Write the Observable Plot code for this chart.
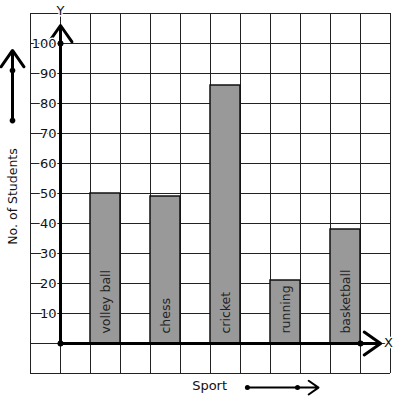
<!DOCTYPE html>
<html>
<head>
<meta charset="utf-8">
<script src="https://cdn.jsdelivr.net/npm/d3@7"></script>
<script src="https://cdn.jsdelivr.net/npm/@observablehq/plot@0.6"></script>
<style>
  html, body { margin: 0; padding: 0; background: #fff; }
  svg { display: block; }
</style>
</head>
<body>
<div id="chart"></div>
<script>
// Data
const sports = ["volley ball", "chess", "cricket", "running", "basketball"];
const students = [50, 49, 86, 21, 38];
const yTicks = [10, 20, 30, 40, 50, 60, 70, 80, 90, 100];
const xTitle = "Sport";
const yTitle = "No. of Students";

// x scale in grid-column units (origin column = 0), bars every other column
const data = sports.map((s, i) => ({sport: s, value: students[i], x1: 2 * i + 1, x2: 2 * i + 2}));
const gridX = d3.range(-1, 12);
const gridY = d3.range(-10, 111, 10);

const font = "DejaVu Sans, sans-serif";

const chart = Plot.plot({
  width: 397,
  height: 399,
  marginLeft: 30,
  marginRight: 7,
  marginTop: 13,
  marginBottom: 26,
  style: {fontFamily: font, background: "#fff", overflow: "visible"},
  x: {type: "linear", domain: [-1, 11], axis: null},
  y: {type: "linear", domain: [-10, 110], axis: null},
  marks: [
    Plot.ruleX(gridX, {x: d => d, y1: -10, y2: 110, stroke: "#222", strokeWidth: 1, strokeOpacity: 1}),
    Plot.ruleY(gridY, {y: d => d, x1: -1, x2: 11, stroke: "#222", strokeWidth: 1, strokeOpacity: 1}),
    Plot.rectY(data, {x1: "x1", x2: "x2", y1: 0, y2: "value", fill: "#999", stroke: "#111", strokeWidth: 1.5}),
    Plot.text(data, {
      x: d => (d.x1 + d.x2) / 2, y: 3.3, text: "sport", rotate: -90, textAnchor: "start",
      fontSize: 12.5, fill: "#222"
    }),
    // axes
    Plot.arrow([0], {x1: 0, y1: 0, x2: 0, y2: 106, stroke: "#000", strokeWidth: 3, headLength: 10, headAngle: 70}),
    Plot.arrow([0], {x1: 0, y1: 0, x2: 10.67, y2: 0, stroke: "#000", strokeWidth: 3, headLength: 10, headAngle: 70}),
    Plot.dot([[0, 0], [0, 100], [10, 0]], {x: d => d[0], y: d => d[1], r: 3, fill: "#000"}),
    // y tick labels with white background
    Plot.text(yTicks, {
      x: -0.13, y: d => d, text: d => String(d), textAnchor: "end",
      fontSize: 13, fill: "#111", stroke: "#fff", strokeWidth: 3
    }),
    Plot.text(["Y"], {x: 0, y: 111, text: d => d, fontSize: 13, fill: "#111", stroke: "#fff", strokeWidth: 3}),
    Plot.text(["X"], {x: 10.93, y: 0.3, text: d => d, fontSize: 13, fill: "#111", stroke: "#fff", strokeWidth: 3}),
    // axis titles with decorative arrows
    Plot.text([yTitle], {x: -1.6, y: 49, text: d => d, rotate: -90, fontSize: 12.5, fill: "#111"}),
    Plot.arrow([0], {x1: -1.6, y1: 74.3, x2: -1.6, y2: 97.7, stroke: "#000", strokeWidth: 3, headLength: 10, headAngle: 70}),
    Plot.dot([74.3, 91], {x: -1.6, y: d => d, r: 2.8, fill: "#000"}),
    Plot.text([xTitle], {x: 4.97, y: -14, text: d => d, fontSize: 13, fill: "#111"}),
    Plot.arrow([0], {x1: 6.23, y1: -14.7, x2: 8.6, y2: -14.7, stroke: "#000", strokeWidth: 2, headLength: 9, headAngle: 70}),
    Plot.dot([6.23, 7.9], {x: d => d, y: -14.7, r: 2.5, fill: "#000"})
  ]
});
document.getElementById("chart").appendChild(chart);
</script>
</body>
</html>
